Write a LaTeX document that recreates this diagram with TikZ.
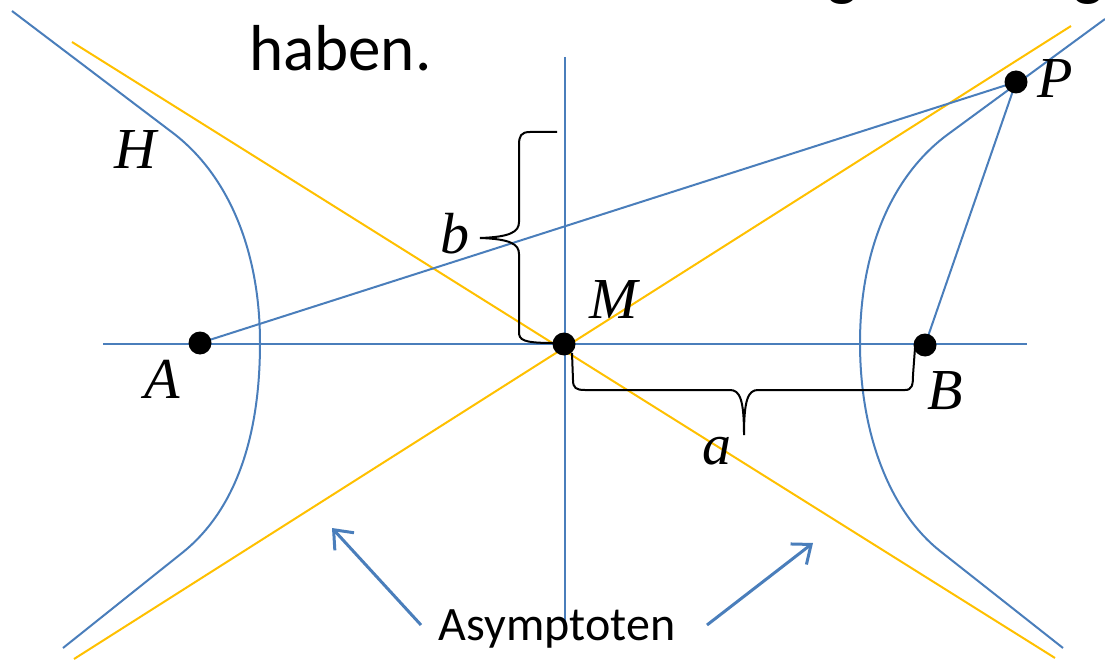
\documentclass[tikz,border=0pt]{standalone}
\usepackage{fontspec}
\setmainfont{Liberation Serif}
\newfontfamily\sansf{Carlito}
\usetikzlibrary{arrows.meta}
\definecolor{hblue}{HTML}{4A7EBB}
\definecolor{hyellow}{HTML}{FFC000}
\tikzset{
  blueline/.style={draw=hblue, line width=2pt},
  yelline/.style={draw=hyellow, line width=2pt},
  bracepath/.style={draw=black, line width=2pt},
  dot/.style={circle, fill=black, inner sep=0pt, minimum size=23pt},
  ptlabel/.style={inner sep=0pt, font=\fontsize{58}{60}\selectfont\itshape},
  arrowline/.style={draw=hblue, line width=3pt, -{Straight Barb[length=16pt,width=26pt,line width=3pt]}},
}
\begin{document}
\begin{tikzpicture}[x=1pt,y=-1pt]
\useasboundingbox (0,0) rectangle (1105,660);
\begin{scope}
\clip (0,0) rectangle (1105,660);
% cut-off text of the line above
\node[anchor=base, inner sep=0pt, font=\sansf\fontsize{64}{66}\selectfont] (g1) at (843,-6) {g};
\node[anchor=base, inner sep=0pt, font=\sansf\fontsize{64}{66}\selectfont] (g2) at (1089,-6) {g};
\end{scope}
\node[anchor=base west, inner sep=0pt, font=\sansf\fontsize{65}{67}\selectfont] (haben) at (249,71) {haben.};

% coordinates
\coordinate (A) at (200,343);
\coordinate (M) at (564,344);
\coordinate (B) at (925,345);
\coordinate (P) at (1016,82);
\coordinate (xl) at (103,344);
\coordinate (xr) at (1027,344);
\coordinate (yt) at (565,57);
\coordinate (yb) at (565,630);
\coordinate (y1a) at (72,42);
\coordinate (y1b) at (1055,658);
\coordinate (y2a) at (74,659);
\coordinate (y2b) at (1071,26);

% asymptotes
\draw[yelline] (y1a) -- (y1b);
\draw[yelline] (y2a) -- (y2b);

% axes
\draw[blueline] (xl) -- (xr);
\draw[blueline] (yt) -- (yb);

% hyperbola
\draw[blueline] (12,11) -- (173,133) .. controls (228,175) and (260,250) .. (260,343)
  .. controls (260,436) and (236,510) .. (182,553) -- (63,648);
\draw[blueline] (1105,19) -- (947,135) .. controls (892,176) and (860,250) .. (860,343)
  .. controls (860,436) and (891,512) .. (940,551) -- (1063,648);

% focal lines
\draw[blueline] (A) -- (P);
\draw[blueline] (B) -- (P);

% braces
\draw[bracepath] (557,132) -- (530,132) .. controls (521,132) and (519,136) .. (519,145) -- (519,222)
  .. controls (519,232) and (510,237) .. (480,238)
  .. controls (510,239) and (519,244) .. (519,254) -- (519,332)
  .. controls (519,340) and (523,343) .. (553,343);
\draw[bracepath] (572,353) -- (573,380) .. controls (573,388) and (576,390) .. (585,390) -- (730,390)
  .. controls (740,390) and (744,400) .. (744,435)
  .. controls (744,400) and (748,390) .. (758,390) -- (905,390)
  .. controls (912,390) and (913,385) .. (913,375) -- (915,348);

% dots
\node[dot] (dA) at (A) {};
\node[dot] (dM) at (M) {};
\node[dot] (dB) at (B) {};
\node[dot] (dP) at (P) {};

% labels
\node[ptlabel] (lH) at (135,150) {H};
\node[ptlabel] (lA) at (162,379) {A};
\node[ptlabel] (lM) at (614,300) {M};
\node[ptlabel] (lB) at (945,391) {B};
\node[ptlabel] (lP) at (1055,79) {P};
\node[ptlabel] (lb) at (455,234) {b};
\node[ptlabel] (la) at (717,451) {a};

% Asymptoten
\node[anchor=base, inner sep=0pt, font=\sansf\fontsize{48}{50}\selectfont] (asy) at (557,640) {Asymptoten};
\coordinate (t1) at (421,625);
\coordinate (h1) at (332,528);
\coordinate (t2) at (707,625);
\coordinate (h2) at (813,543);
\draw[arrowline] (t1) -- (h1);
\draw[arrowline] (t2) -- (h2);
\end{tikzpicture}
\end{document}
